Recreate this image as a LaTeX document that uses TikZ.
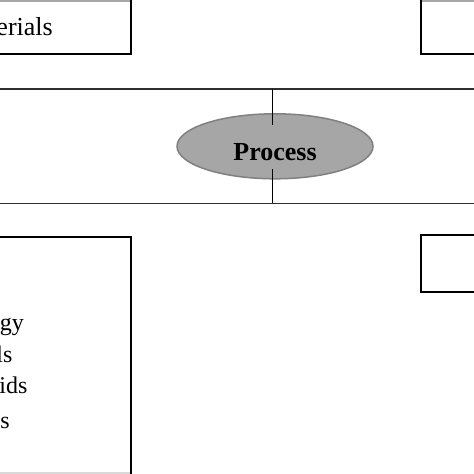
\documentclass[tikz,border=0pt]{standalone}
\usepackage{fontspec}
\setmainfont{Liberation Serif}
\usetikzlibrary{shapes.geometric}
\definecolor{ellfill}{HTML}{A6A6A6}
\definecolor{elldraw}{HTML}{808080}
\definecolor{linegray}{HTML}{303030}
\begin{document}
\begin{tikzpicture}[x=1pt,y=-1pt,
  boxst/.style={draw=black,line width=2pt},
  rulest/.style={draw=linegray,line width=1.2pt},
  connst/.style={draw=black,line width=1.2pt},
  txt/.style={inner sep=0pt,anchor=base east,font=\fontsize{26}{30}\selectfont},
  btxt/.style={inner sep=0pt,anchor=base east,font=\fontsize{24}{28}\selectfont}]
\useasboundingbox (0,0) rectangle (474,474);
% boxes
\draw[boxst] (-20,-20) rectangle (131,54);
\fill[gray!70] (0,0) rectangle (130,1.5);
\draw[boxst] (421,-20) rectangle (500,54);
\fill[gray!70] (422,0) rectangle (474,1.5);
\draw[boxst] (-20,237) rectangle (131,500);
\fill[gray!30] (0,472) rectangle (130,474);
\draw[boxst] (421,235) rectangle (500,292);
% horizontal rules
\coordinate (l1a) at (-5,89);
\coordinate (l1b) at (480,89);
\coordinate (l2a) at (-5,203.3);
\coordinate (l2b) at (480,203.3);
\draw[rulest] (l1a) -- (l1b);
\draw[rulest] (l2a) -- (l2b);
% ellipse
\node[ellipse,fill=ellfill,draw=elldraw,line width=1.5pt,minimum width=196pt,minimum height=65pt,inner sep=0pt] (proc) at (275,146.3) {};
\node[inner sep=0pt,anchor=base,font=\fontsize{26}{30}\selectfont\bfseries] (proctxt) at (275,160) {Process};
% connectors
\coordinate (vt) at (272.7,89);
\coordinate (vte) at (272.7,125);
\coordinate (vbs) at (272.7,169.3);
\coordinate (vb) at (272.7,203.3);
\draw[connst] (vt) -- (vte);
\draw[connst] (vbs) -- (vb);
% texts
\node[txt] (t1) at (53,35) {erials};
\node[btxt] (t2) at (24,330.7) {gy};
\node[btxt] (t3) at (12.7,362.7) {ls};
\node[btxt] (t4) at (27.7,393) {ids};
\node[btxt] (t5) at (10,428.3) {s};
\end{tikzpicture}
\end{document}
